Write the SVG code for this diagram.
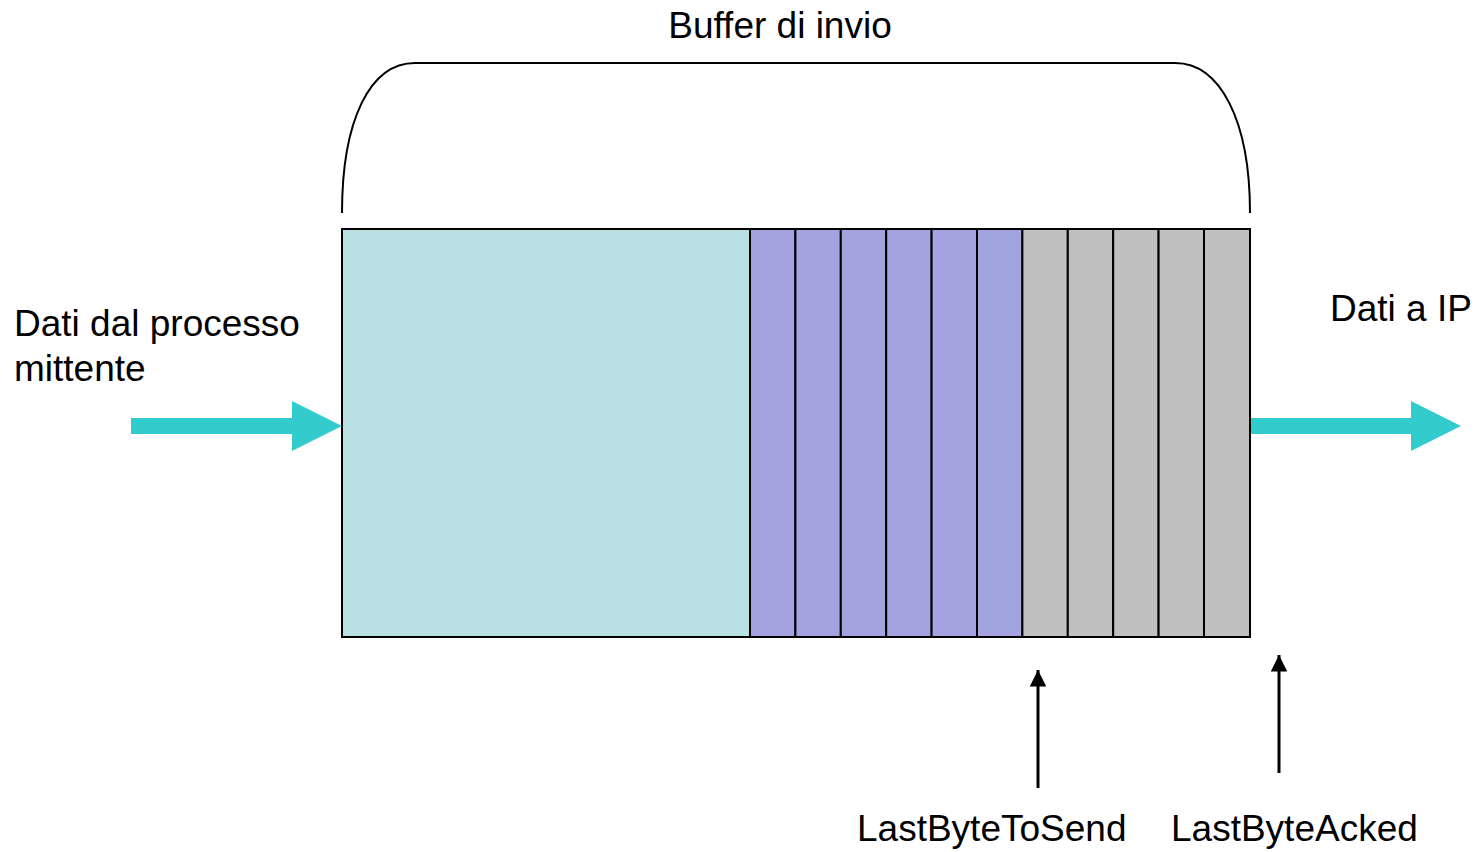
<svg xmlns="http://www.w3.org/2000/svg" width="1479" height="852" viewBox="0 0 1479 852">
<defs>
<style>
.t{font-family:"Liberation Sans",Arial,sans-serif;font-size:37px;fill:#000}
.cell{stroke:#000;stroke-width:2}
.fat{fill:#33CCCC}
.ptr{stroke:#000;stroke-width:3;fill:none}
</style>
<marker id="ah" viewBox="0 0 10 10" refX="10" refY="5" markerWidth="5.5" markerHeight="5.5" markerUnits="strokeWidth" orient="auto">
<path d="M0,0 L10,5 L0,10 Z" fill="#000"/>
</marker>
</defs>
<rect width="1479" height="852" fill="#fff"/>
<g id="buffer-label">
<path d="M342,213 C342,120 370,63 415,63 L1175,63 C1220,63 1250,120 1250,213" fill="none" stroke="#000" stroke-width="2"/>
<text class="t" x="780" y="38" text-anchor="middle">Buffer di invio</text>
</g>
<g id="buffer">
<rect class="cell" x="342" y="229" width="408" height="408" fill="#B9E0E3"/>
<rect class="cell" x="750" y="229" width="45.4" height="408" fill="#A3A3DF"/>
<rect class="cell" x="795.4" y="229" width="45.4" height="408" fill="#A3A3DF"/>
<rect class="cell" x="840.8" y="229" width="45.4" height="408" fill="#A3A3DF"/>
<rect class="cell" x="886.2" y="229" width="45.4" height="408" fill="#A3A3DF"/>
<rect class="cell" x="931.6" y="229" width="45.4" height="408" fill="#A3A3DF"/>
<rect class="cell" x="977" y="229" width="45.4" height="408" fill="#A3A3DF"/>
<rect class="cell" x="1022.4" y="229" width="45.4" height="408" fill="#C0C0C0"/>
<rect class="cell" x="1067.8" y="229" width="45.4" height="408" fill="#C0C0C0"/>
<rect class="cell" x="1113.2" y="229" width="45.4" height="408" fill="#C0C0C0"/>
<rect class="cell" x="1158.6" y="229" width="45.4" height="408" fill="#C0C0C0"/>
<rect class="cell" x="1204" y="229" width="46" height="408" fill="#C0C0C0"/>
</g>
<g id="input">
<text class="t" x="14" y="336">Dati dal processo</text>
<text class="t" x="14" y="381">mittente</text>
</g>
<g id="output">
<text class="t" x="1330" y="321">Dati a IP</text>
</g>
<g id="lastbytetosend">
<text class="t" x="857" y="841">LastByteToSend</text>
</g>
<g id="lastbyteacked">
<text class="t" x="1171" y="841">LastByteAcked</text>
</g>
<g id="connectors">
<path class="fat" d="M131,418 L292,418 L292,401 L342,426 L292,451 L292,434 L131,434 Z"/>
<path class="fat" d="M1251,418 L1411,418 L1411,401 L1461,426 L1411,451 L1411,434 L1251,434 Z"/>
<line class="ptr" x1="1038" y1="788" x2="1038" y2="670" marker-end="url(#ah)"/>
<line class="ptr" x1="1279" y1="773" x2="1279" y2="655" marker-end="url(#ah)"/>
</g>
</svg>
